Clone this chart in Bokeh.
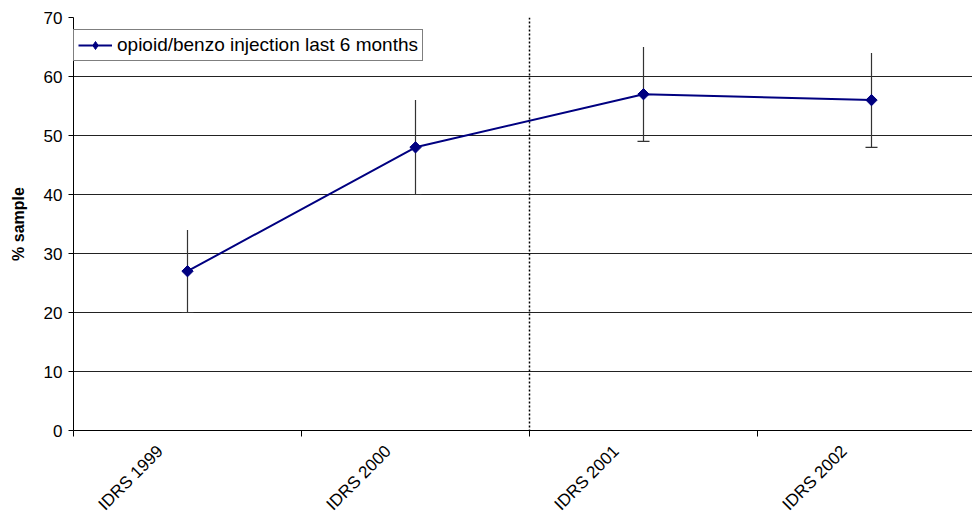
import math
from bokeh.plotting import figure
from bokeh.models import Range1d, FixedTicker, Span, Legend, LegendItem, Whisker, ColumnDataSource, TeeHead
from bokeh.embed import file_html
from bokeh.resources import INLINE

categories = ["IDRS 1999", "IDRS 2000", "IDRS 2001", "IDRS 2002"]
values = [27, 48, 57, 56]
err_lower = [20, 40, 49, 48]
err_upper = [34, 56, 65, 64]
y_ticks = [0, 10, 20, 30, 40, 50, 60, 70]
series_name = "opioid/benzo injection last 6 months"
divider_after = 2  # dotted line between IDRS 2000 and IDRS 2001

xs = [i + 0.5 for i in range(len(categories))]
label_shift = 0.12  # Excel-like anchoring of rotated labels
label_pos = [round(x - label_shift, 3) for x in xs]
src = ColumnDataSource(dict(x=xs, y=values, lo=err_lower, hi=err_upper))

FONT = "Liberation Sans"

p = figure(width=972, height=523, output_backend="svg", toolbar_location=None,
           x_range=Range1d(0, 899 / 228), y_range=Range1d(0, 70),
           min_border_left=73, min_border_top=17, min_border_bottom=93, min_border_right=0)
p.outline_line_color = None
p.background_fill_color = "white"

# axes
p.xaxis.ticker = FixedTicker(ticks=label_pos, minor_ticks=list(range(len(categories) + 1)))
p.xaxis.major_label_overrides = {x: c for x, c in zip(label_pos, categories)}
p.xaxis.major_tick_out = 0
p.xaxis.major_tick_in = 0
p.xaxis.minor_tick_out = 6
p.xaxis.minor_tick_in = 0
p.xaxis.minor_tick_line_color = "black"
p.xaxis.major_label_orientation = math.pi / 4
p.xaxis.major_label_standoff = 12
p.xaxis.major_label_text_font = FONT
p.xaxis.major_label_text_font_size = "17px"
p.xaxis.major_label_text_color = "black"
p.xaxis.axis_line_color = "black"

p.yaxis.ticker = FixedTicker(ticks=y_ticks, minor_ticks=[])
p.yaxis.major_tick_out = 5
p.yaxis.major_tick_in = 0
p.yaxis.major_tick_line_color = "black"
p.yaxis.axis_line_color = "black"
p.yaxis.major_label_text_font = FONT
p.yaxis.major_label_text_font_size = "17px"
p.yaxis.major_label_text_color = "black"
p.yaxis.major_label_standoff = 6
p.yaxis.axis_label = "% sample"
p.yaxis.axis_label_text_font = FONT
p.yaxis.axis_label_text_font_size = "16px"
p.yaxis.axis_label_text_font_style = "bold"
p.yaxis.axis_label_text_color = "black"
p.yaxis.axis_label_standoff = 14

p.xgrid.grid_line_color = None
p.ygrid.grid_line_color = "#222222"
p.ygrid.grid_line_width = 1.2

# dotted divider
p.add_layout(Span(location=divider_after, dimension="height", line_color="black",
                  line_dash="2 2", line_width=1.5))

# error bars
wh = Whisker(source=src, base="x", lower="lo", upper="hi", dimension="height",
             line_color="#333333", line_width=1.2,
             lower_head=TeeHead(size=12, line_color="#333333", line_width=1.2),
             upper_head=None)
p.add_layout(wh)

ln = p.line("x", "y", source=src, line_color="#000080", line_width=2)
# diamond marker (used for the legend glyph), covered by the square-diamond on top
leg_mark = p.scatter("x", "y", source=src, marker="diamond", size=10,
                     fill_color="#000080", line_color="#000080")
sc = p.scatter("x", "y", source=src, marker="square", size=8, angle=math.pi / 4,
               fill_color="#000080", line_color="#000080")

legend = Legend(items=[LegendItem(label=series_name, renderers=[ln, leg_mark])],
                location=(0, 369), border_line_color="black", border_line_width=1,
                background_fill_color="white", background_fill_alpha=1,
                label_text_font=FONT, label_text_font_size="19px",
                label_text_color="black",
                glyph_width=34, glyph_height=20, label_height=20,
                padding=4, margin=0, spacing=0, label_standoff=5)
p.add_layout(legend, "center")

open("out.html", "w").write(file_html(p, INLINE))
